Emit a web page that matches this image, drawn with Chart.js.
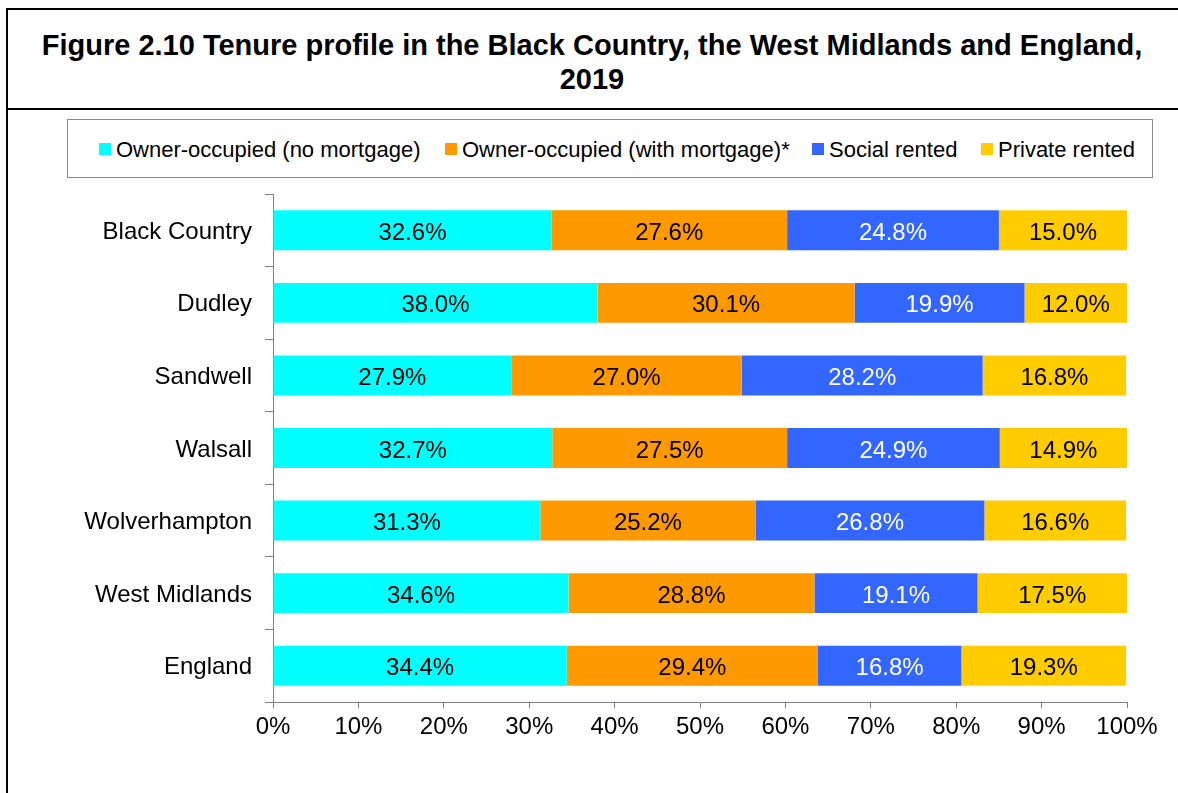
<!DOCTYPE html>
<html>
<head>
<meta charset="utf-8">
<script src="https://cdn.jsdelivr.net/npm/chart.js@4"></script>
<style>
  body { margin: 0; background: #fff; font-family: 'Liberation Sans', Arial, sans-serif; }
  #frame { position: absolute; left: 6px; top: 8px; width: 1200px; height: 900px; border-left: 2px solid #000; border-top: 2px solid #000; }
  #rule { position: absolute; left: 6px; top: 108px; width: 1200px; border-top: 2px solid #000; }
  #title { position: absolute; left: 8px; top: 28px; width: 1168px; text-align: center; font: bold 29px 'Liberation Sans', Arial, sans-serif; line-height: 34px; color: #000; }
  #legend { position: absolute; left: 67px; top: 119px; width: 1084px; height: 57px; border: 1px solid #888; }
  .box { position: absolute; top: 23px; width: 12px; height: 12px; }
  .txt { position: absolute; top: 19px; font-size: 22px; line-height: 22px; color: #000; white-space: nowrap; }
  #wrap { position: absolute; left: 0; top: 180px; width: 1178px; height: 613px; }
</style>
</head>
<body>
<div id="frame"></div>
<div id="rule"></div>
<div id="title">Figure 2.10 Tenure profile in the Black Country, the West Midlands and England,<br>2019</div>
<div id="legend"></div>
<div id="wrap"><canvas id="tenure-chart"></canvas></div>
<script>
const areas = ['Black Country', 'Dudley', 'Sandwell', 'Walsall', 'Wolverhampton', 'West Midlands', 'England'];
const ownedOutright = [32.6, 38.0, 27.9, 32.7, 31.3, 34.6, 34.4];
const ownedMortgage = [27.6, 30.1, 27.0, 27.5, 25.2, 28.8, 29.4];
const socialRented = [24.8, 19.9, 28.2, 24.9, 26.8, 19.1, 16.8];
const privateRented = [15.0, 12.0, 16.8, 14.9, 16.6, 17.5, 19.3];
const seriesNames = ['Owner-occupied (no mortgage)', 'Owner-occupied (with mortgage)*', 'Social rented', 'Private rented'];
const xTicks = [0, 10, 20, 30, 40, 50, 60, 70, 80, 90, 100];

const colours = ['#00FFFF', '#FF9900', '#3366FF', '#FFCC00'];
const labelColours = ['#000', '#000', '#fff', '#000'];
const legendBoxX = [31, 377, 744, 913]; // relative to legend box
const legendTextX = [48, 394, 761, 930];

// legend (built from the series names)
const legend = document.getElementById('legend');
seriesNames.forEach((name, i) => {
  const box = document.createElement('i');
  box.className = 'box';
  box.style.left = legendBoxX[i] + 'px';
  box.style.background = colours[i];
  legend.appendChild(box);
  const txt = document.createElement('span');
  txt.className = 'txt';
  txt.style.left = legendTextX[i] + 'px';
  txt.textContent = name;
  legend.appendChild(txt);
});

const FONT = '"Liberation Sans", Arial, sans-serif';

// percentage labels in the middle of each segment
const segmentLabels = {
  id: 'segmentLabels',
  afterDatasetsDraw(chart) {
    const ctx = chart.ctx;
    ctx.save();
    ctx.font = '24px ' + FONT;
    ctx.textAlign = 'center';
    ctx.textBaseline = 'middle';
    chart.data.datasets.forEach((ds, i) => {
      const meta = chart.getDatasetMeta(i);
      meta.data.forEach((bar, j) => {
        ctx.fillStyle = labelColours[i];
        ctx.fillText(ds.data[j].toFixed(1) + '%', (bar.x + bar.base) / 2, bar.y + 3);
      });
    });
    ctx.restore();
  }
};

const allSeries = [ownedOutright, ownedMortgage, socialRented, privateRented];

new Chart(document.getElementById('tenure-chart'), {
  type: 'bar',
  data: {
    labels: areas,
    datasets: allSeries.map((values, i) => ({
      label: seriesNames[i],
      data: values,
      backgroundColor: colours[i],
      borderWidth: 0,
      categoryPercentage: 1,
      barPercentage: 0.55
    }))
  },
  options: {
    indexAxis: 'y',
    responsive: true,
    maintainAspectRatio: false,
    animation: false,
    layout: { padding: { top: 14, right: 51, bottom: 0, left: 0 } },
    plugins: {
      legend: { display: false },
      tooltip: { enabled: false }
    },
    scales: {
      x: {
        stacked: true,
        min: 0,
        max: 100,
        afterFit: (s) => { s.height = 91; s.paddingLeft = 0; s.paddingRight = 0; },
        afterBuildTicks: (s) => { s.ticks = xTicks.map(v => ({ value: v })); },
        border: { color: '#808080', width: 1 },
        grid: { drawOnChartArea: false, color: '#808080', tickLength: 6 },
        ticks: {
          color: '#000',
          font: { family: FONT, size: 24 },
          padding: 5,
          maxRotation: 0,
          callback: (v) => v + '%'
        }
      },
      y: {
        stacked: true,
        afterFit: (s) => { s.width = 273; s.paddingTop = 0; s.paddingBottom = 0; },
        border: { color: '#808080', width: 1 },
        grid: { offset: true, drawOnChartArea: false, color: '#808080', tickLength: 8 },
        ticks: {
          color: '#000',
          font: { family: FONT, size: 24 },
          padding: 13,
          labelOffset: 2
        }
      }
    }
  },
  plugins: [segmentLabels]
});
</script>
</body>
</html>
